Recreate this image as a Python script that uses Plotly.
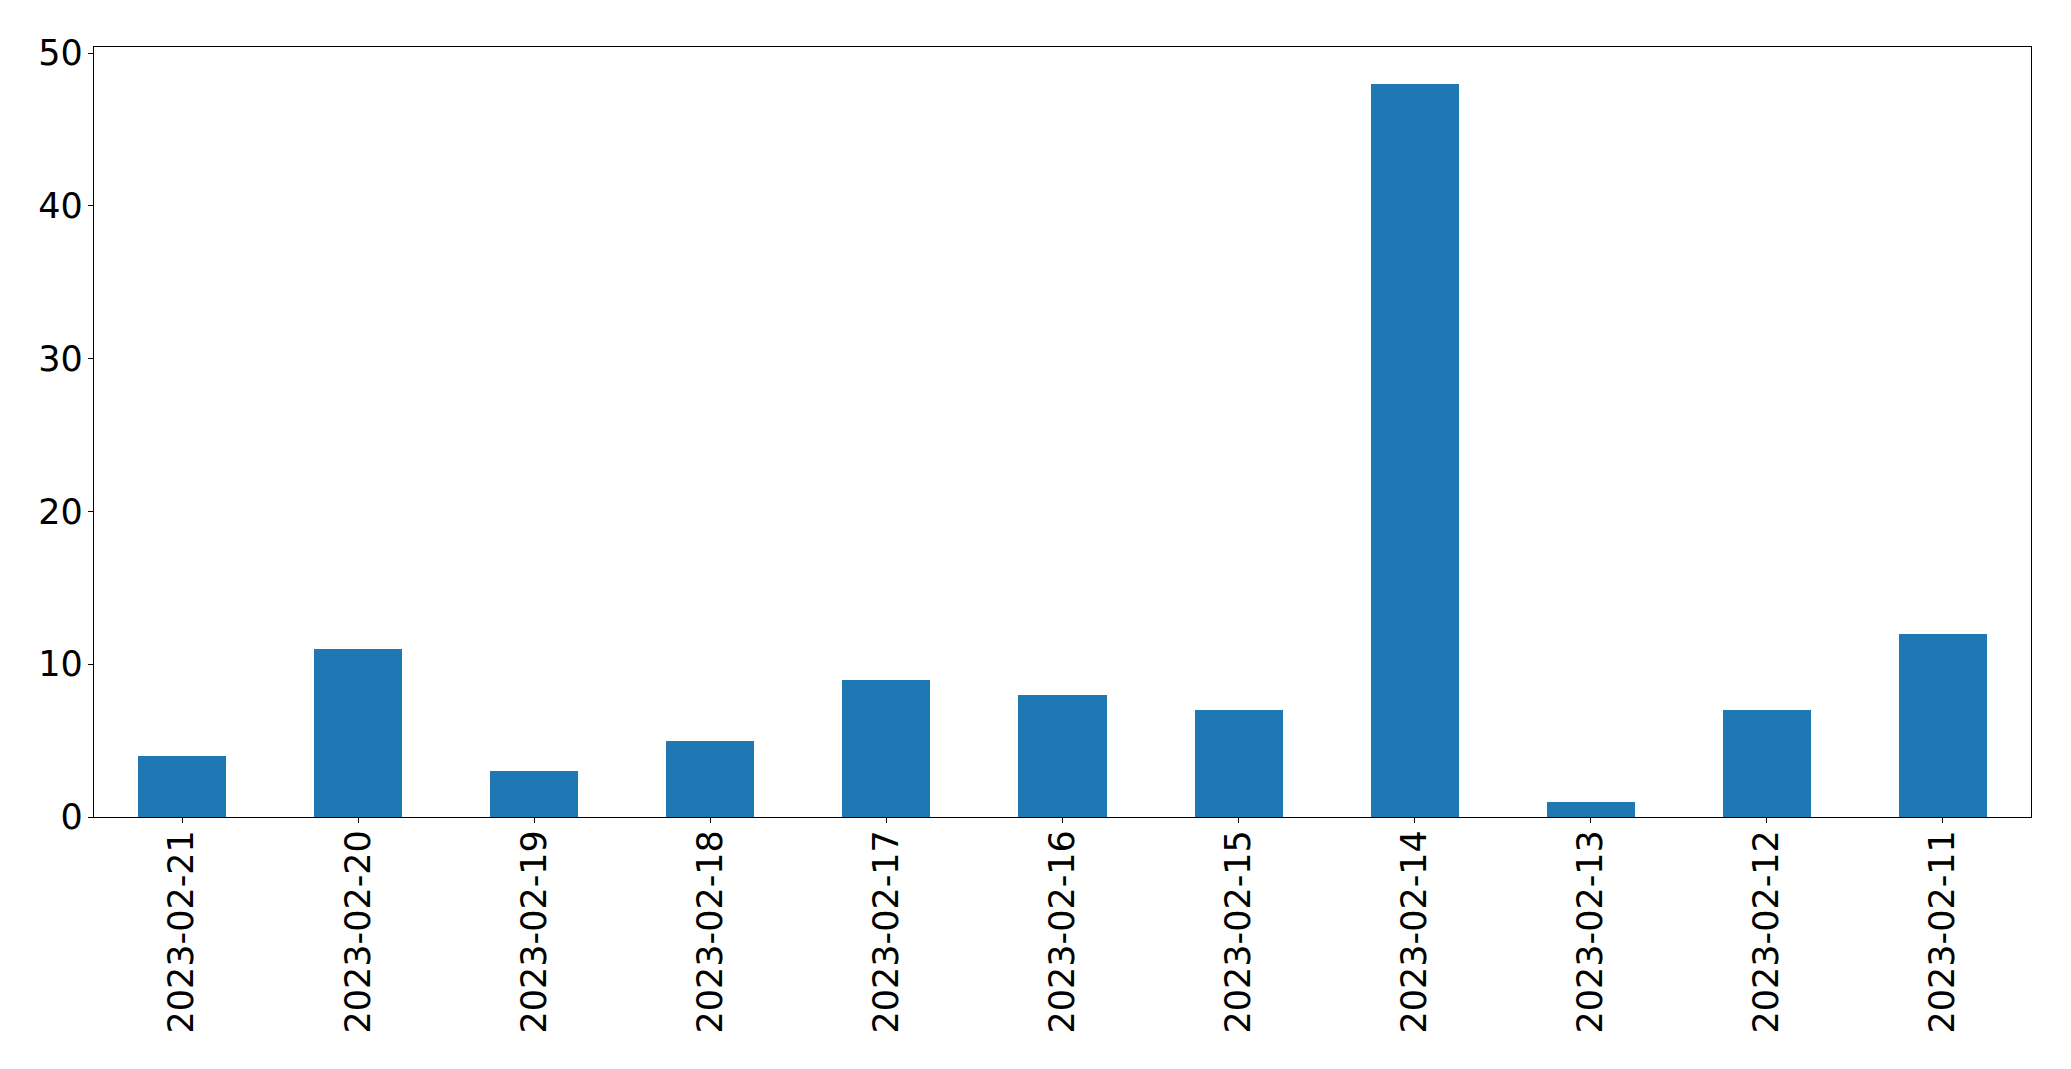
import plotly.graph_objects as go

dates = ["2023-02-21", "2023-02-20", "2023-02-19", "2023-02-18", "2023-02-17",
         "2023-02-16", "2023-02-15", "2023-02-14", "2023-02-13", "2023-02-12", "2023-02-11"]
counts = [4, 11, 3, 5, 9, 8, 7, 48, 1, 7, 12]
y_ticks = [0, 10, 20, 30, 40, 50]

fig = go.Figure(go.Bar(x=dates, y=counts, width=0.5, marker=dict(color="#1f77b4", line=dict(width=0))))

axis_common = dict(showline=True, linecolor="black", linewidth=1.3, mirror=True,
                   ticks="outside", ticklen=5, tickwidth=1.3, tickcolor="black",
                   showgrid=False, zeroline=False,
                   tickfont=dict(family="DejaVu Sans", size=35, color="black"))

fig.update_layout(
    width=2055, height=1053,
    margin=dict(l=86, r=32, t=39, b=244),
    plot_bgcolor="white", paper_bgcolor="white",
    showlegend=False,
    bargap=0,
    xaxis=dict(type="category", range=[-0.5, 10.5], tickangle=-90, ticklabelstandoff=-7, **axis_common),
    yaxis=dict(range=[0, 50.4], tickvals=y_ticks, ticklabelstandoff=-2, **axis_common),
)

fig.write_html("out.html")
